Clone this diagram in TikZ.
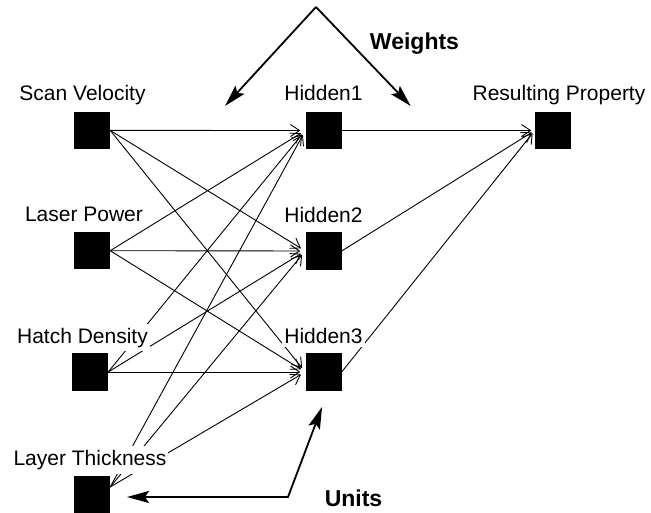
\documentclass[tikz,border=0pt]{standalone}
\usepackage{fontspec}
\setmainfont{Liberation Sans}
\usetikzlibrary{arrows.meta}
\begin{document}
\begin{tikzpicture}[x=1pt,y=-1pt,
  unitbox/.style={fill=black,minimum width=36pt,minimum height=37.5pt,inner sep=0pt},
  lab/.style={anchor=base,fill=white,inner xsep=2pt,inner ysep=4pt,
    font=\fontsize{21}{25}\selectfont},
  note/.style={anchor=base,font=\fontsize{23}{27}\selectfont\bfseries},
  link/.style={line width=0.9pt,-{Straight Barb[length=9pt,width=12pt]},shorten >=5pt},
  pointer/.style={line width=1.8pt,-{Stealth[length=22pt,width=12pt,inset=4pt]}},
  twopointer/.style={line width=1.8pt,{Stealth[length=22pt,width=12pt,inset=4pt]}-{Stealth[length=22pt,width=12pt,inset=4pt]}}]
\useasboundingbox (0,0) rectangle (651,513);

% input, hidden and output units
\node[unitbox] (sv) at (92,130.4) {};
\node[unitbox] (lp) at (92,250.7) {};
\node[unitbox] (hd) at (90,372) {};
\node[unitbox] (lt) at (92,494.5) {};
\node[unitbox] (h1) at (323.5,130.5) {};
\node[unitbox] (h2) at (323.5,251) {};
\node[unitbox] (h3) at (323.5,372) {};
\node[unitbox] (rp) at (553,130.5) {};

% input -> hidden connections
\foreach \h in {h1,h2,h3}{
  \draw[link] (sv.east) -- (\h.west);
  \draw[link] (lp.east) -- (\h.west);
  \draw[link] (hd.east) -- (\h.west);
  \draw[link] ([yshift=7.5pt]lt.east) -- (\h.west);
}
% hidden -> output connections
\foreach \h in {h1,h2,h3}
  \draw[link,shorten >=3.5pt] (\h.east) -- (rp.west);

% labels (white background hides the links behind them)
\node[lab] (lsv) at (82.5,101) {Scan Velocity};
\node[lab] (llp) at (84,221.7) {Laser Power};
\node[lab] (lhd) at (82.5,343) {Hatch Density};
\node[lab] (llt) at (90,465.7) {Layer Thickness};
\node[lab] (lh1) at (323.5,101) {Hidden1};
\node[lab] (lh2) at (323.5,222.7) {Hidden2};
\node[lab] (lh3) at (323.5,343) {Hidden3};
\node[lab] (lrp) at (559,101) {Resulting Property};

% annotation arrows
\coordinate (apex) at (316,7);
\coordinate (wl) at (225,106);
\coordinate (wr) at (410.7,106);
\draw[pointer] (apex) -- (wl);
\draw[pointer] (apex) -- (wr);
\node[note] (weights) at (414.5,50) {Weights};

\coordinate (ul) at (127,497);
\coordinate (uc) at (288,497);
\coordinate (ut) at (322,407);
\draw[twopointer] (ul) -- (uc) -- (ut);
\node[note] (units) at (353.5,506.7) {Units};
\end{tikzpicture}
\end{document}
